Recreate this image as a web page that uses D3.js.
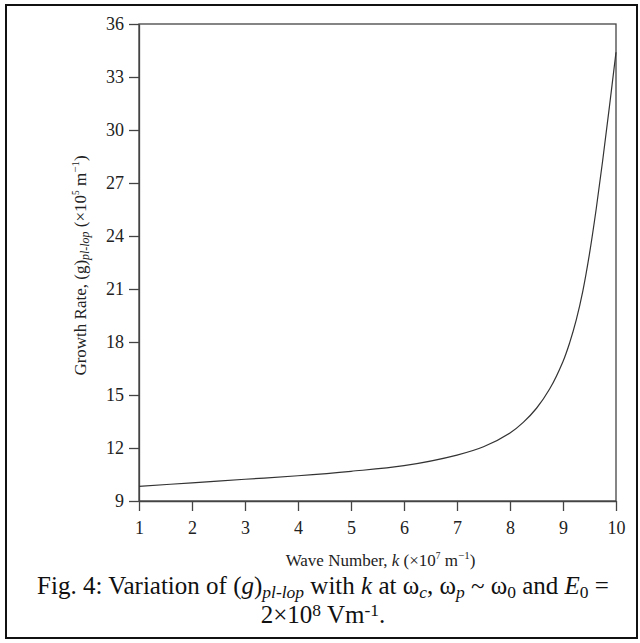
<!DOCTYPE html>
<html>
<head>
<meta charset="utf-8">
<script src="https://cdn.jsdelivr.net/npm/d3@7"></script>
<style>
  body { margin: 0; background: #fff; }
  svg { display: block; font-family: "Liberation Serif", "DejaVu Serif", serif; }
</style>
</head>
<body>
<script>
'use strict';

const WIDTH = 640;
const HEIGHT = 643;

const PLOT_LEFT = 139;
const PLOT_RIGHT = 616;
const PLOT_TOP = 24;
const PLOT_BOTTOM = 501;

// Wave number k (x10^7 m^-1) and growth rate (x10^5 m^-1).
const kValues = [1, 2, 3, 4, 5, 6, 7, 7.5, 8, 8.25, 8.5, 8.75, 9, 9.125, 9.25, 9.375, 9.5, 9.625, 9.75, 9.875, 10];
const growthRate = [9.83, 10.03, 10.23, 10.43, 10.68, 11.0, 11.6, 12.07, 12.85, 13.45, 14.25, 15.35, 16.9, 17.95, 19.25, 20.9, 23.0, 25.5, 28.3, 31.3, 34.4];

const xTicks = [1, 2, 3, 4, 5, 6, 7, 8, 9, 10];
const yTicks = [9, 12, 15, 18, 21, 24, 27, 30, 33, 36];

const AXIS_COLOR = '#444';
const TEXT_COLOR = '#222';

// Write a list of text parts into a text element, with sub/superscripts.
function richText(sel, parts, baseSize, subShift, supShift) {
    let shift = 0;
    parts.forEach(function(p) {
        let ts = sel.append('tspan').text(p.t);
        let target = 0;
        if (p.sub) target = baseSize * (subShift || 0.2);
        if (p.sup) target = -baseSize * (supShift || 0.4);
        ts.attr('dy', target - shift);
        shift = target;
        if (p.sub || p.sup) ts.attr('font-size', baseSize * (p.small || 0.7));
        if (p.italic) ts.attr('font-style', 'italic');
    });
}

function main() {
    const svg = d3.select('body').append('svg')
            .attr('width', WIDTH)
            .attr('height', HEIGHT);

    // Outer figure frame.
    svg.append('rect')
            .attr('x', 6).attr('y', 5)
            .attr('width', 631).attr('height', 633)
            .attr('fill', 'none')
            .attr('stroke', '#111')
            .attr('stroke-width', 2);

    const x = d3.scaleLinear().domain([1, 10]).range([PLOT_LEFT, PLOT_RIGHT]);
    const y = d3.scaleLinear().domain([9, 36]).range([PLOT_BOTTOM, PLOT_TOP]);

    // Plot box.
    svg.append('rect')
            .attr('x', x(1)).attr('y', y(36))
            .attr('width', x(10) - x(1)).attr('height', y(9) - y(36))
            .attr('fill', 'none')
            .attr('stroke', AXIS_COLOR)
            .attr('stroke-width', 1.3);

    const xAxis = svg.append('g')
            .attr('transform', `translate(0,${PLOT_BOTTOM})`)
            .call(d3.axisBottom(x).tickValues(xTicks).tickSize(10).tickSizeOuter(0).tickPadding(10));

    const yAxis = svg.append('g')
            .attr('transform', `translate(${PLOT_LEFT},0)`)
            .call(d3.axisLeft(y).tickValues(yTicks).tickSize(10).tickSizeOuter(0).tickPadding(5));

    [xAxis, yAxis].forEach(function(g) {
        g.select('.domain').attr('stroke', AXIS_COLOR).attr('stroke-width', 1.3);
        g.selectAll('.tick line').attr('stroke', AXIS_COLOR).attr('stroke-width', 1.3);
        g.selectAll('.tick text')
                .attr('fill', TEXT_COLOR)
                .attr('font-size', 18)
                .attr('font-family', '"Liberation Serif", serif');
    });

    // The curve.
    const line = d3.line()
            .x(function(d, i) { return x(kValues[i]); })
            .y(function(d) { return y(d); })
            .curve(d3.curveCatmullRom.alpha(0.5));

    svg.append('path')
            .datum(growthRate)
            .attr('d', line)
            .attr('fill', 'none')
            .attr('stroke', '#333')
            .attr('stroke-width', 1.2);

    // X axis label.
    const xLabel = svg.append('text')
            .attr('x', (PLOT_LEFT + PLOT_RIGHT) / 2 + 3)
            .attr('y', 566)
            .attr('text-anchor', 'middle')
            .attr('font-size', 17)
            .attr('fill', TEXT_COLOR);
    richText(xLabel, [
        {t: 'Wave Number, '},
        {t: 'k', italic: true},
        {t: ' (\u00d710'},
        {t: '7', sup: true, small: 0.55},
        {t: ' m'},
        {t: '\u22121', sup: true, small: 0.65},
        {t: ')'},
    ], 17);

    // Y axis label.
    const yLabel = svg.append('text')
            .attr('transform', `translate(86,${(PLOT_TOP + PLOT_BOTTOM) / 2 + 3}) rotate(-90)`)
            .attr('text-anchor', 'middle')
            .attr('font-size', 17)
            .attr('fill', TEXT_COLOR);
    richText(yLabel, [
        {t: 'Growth Rate, ('},
        {t: 'g'},
        {t: ')'},
        {t: 'pl-lop', sub: true, italic: true},
        {t: ' (\u00d710'},
        {t: '5', sup: true, small: 0.55},
        {t: ' m'},
        {t: '\u22121', sup: true, small: 0.65},
        {t: ')'},
    ], 17);

    // Caption.
    const cap1 = svg.append('text')
            .attr('x', 323).attr('y', 594)
            .attr('text-anchor', 'middle')
            .attr('font-size', 25)
            .attr('fill', '#111');
    richText(cap1, [
        {t: 'Fig. 4: Variation of ('},
        {t: 'g', italic: true},
        {t: ')'},
        {t: 'pl-lop', sub: true, italic: true},
        {t: ' with '},
        {t: 'k', italic: true},
        {t: ' at \u03c9'},
        {t: 'c', sub: true, italic: true},
        {t: ', \u03c9'},
        {t: 'p', sub: true, italic: true},
        {t: ' ~ \u03c9'},
        {t: '0', sub: true},
        {t: ' and '},
        {t: 'E', italic: true},
        {t: '0', sub: true},
        {t: ' ='},
    ], 25, 0.14);

    const cap2 = svg.append('text')
            .attr('x', 323).attr('y', 623)
            .attr('text-anchor', 'middle')
            .attr('font-size', 25)
            .attr('fill', '#111');
    richText(cap2, [
        {t: '2\u00d710'},
        {t: '8', sup: true},
        {t: ' Vm'},
        {t: '-1', sup: true},
        {t: '.'},
    ], 25, 0.2, 0.3);
}

document.addEventListener('DOMContentLoaded', main);
</script>
</body>
</html>
